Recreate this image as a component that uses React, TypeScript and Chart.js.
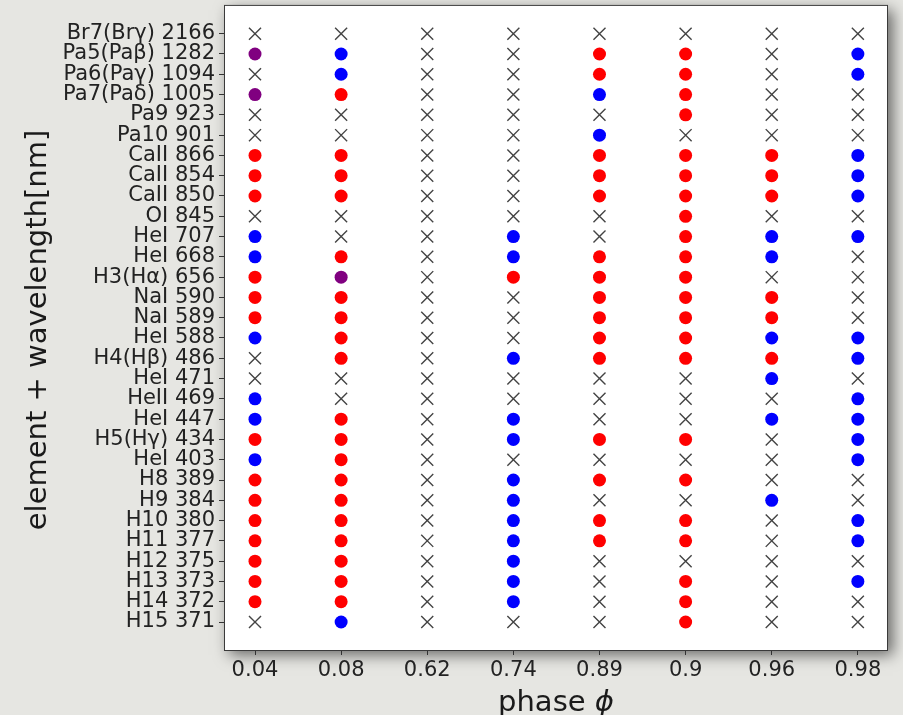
import React, { useEffect, useRef } from "react";
import { Chart, registerables } from "chart.js";
Chart.register(...registerables);

const phases = ["0.04", "0.08", "0.62", "0.74", "0.89", "0.9", "0.96", "0.98"];
const lines = [
  "Br7(Brγ) 2166", "Pa5(Paβ) 1282", "Pa6(Paγ) 1094", "Pa7(Paδ) 1005", "Pa9 923", "Pa10 901",
  "CaII 866", "CaII 854", "CaII 850", "OI 845", "HeI 707", "HeI 668", "H3(Hα) 656",
  "NaI 590", "NaI 589", "HeI 588", "H4(Hβ) 486", "HeI 471", "HeII 469", "HeI 447",
  "H5(Hγ) 434", "HeI 403", "H8 389", "H9 384", "H10 380", "H11 377", "H12 375",
  "H13 373", "H14 372", "H15 371",
];

// R = red, B = blue, P = purple, x = cross (one entry per line, top to bottom)
const phase004 = ["x","P","x","P","x","x","R","R","R","x","B","B","R","R","R","B","x","x","B","B","R","B","R","R","R","R","R","R","R","x"];
const phase008 = ["x","B","B","R","x","x","R","R","R","x","x","R","P","R","R","R","R","x","x","R","R","R","R","R","R","R","R","R","R","B"];
const phase062 = ["x","x","x","x","x","x","x","x","x","x","x","x","x","x","x","x","x","x","x","x","x","x","x","x","x","x","x","x","x","x"];
const phase074 = ["x","x","x","x","x","x","x","x","x","x","B","B","R","x","x","x","B","x","x","B","B","x","B","B","B","B","B","B","B","x"];
const phase089 = ["x","R","R","B","x","B","R","R","R","x","x","R","R","R","R","R","R","x","x","x","R","x","R","x","R","R","x","x","x","x"];
const phase090 = ["x","R","R","R","R","x","R","R","R","R","R","R","R","R","R","R","R","x","x","x","R","x","R","x","R","R","x","R","R","R"];
const phase096 = ["x","x","x","x","x","x","R","R","R","x","B","B","x","R","R","B","R","B","x","B","x","x","x","B","x","x","x","x","x","x"];
const phase098 = ["x","B","B","x","x","x","B","B","B","x","B","x","x","x","x","B","B","x","B","B","B","B","x","x","B","B","x","B","x","x"];

const columns = [phase004, phase008, phase062, phase074, phase089, phase090, phase096, phase098];

const FONT = "'DejaVu Sans', sans-serif";
const SHIFT = 5; // canvas is drawn 5px taller and shifted up by 5px

function pointsFor(code: string) {
  const pts: { x: number; y: number }[] = [];
  columns.forEach((col, xi) => {
    col.forEach((c, yi) => {
      if (c === code) pts.push({ x: xi, y: yi });
    });
  });
  return pts;
}

export default function App() {
  const ref = useRef<HTMLCanvasElement | null>(null);
  useEffect(() => {
    document.body.style.margin = "0";
    document.body.style.overflow = "hidden";
    const canvas = ref.current!;
    const bgPlugin = {
      id: "paper",
      beforeDraw(chart: any) {
        const { ctx, chartArea: a } = chart;
        ctx.save();
        ctx.fillStyle = "#e6e6e2";
        ctx.fillRect(0, 0, chart.width, chart.height);
        ctx.shadowColor = "rgba(0,0,0,0.55)";
        ctx.shadowBlur = 14;
        ctx.shadowOffsetX = 5;
        ctx.shadowOffsetY = 5;
        ctx.fillStyle = "#ffffff";
        ctx.fillRect(a.left, a.top, a.right - a.left, a.bottom - a.top);
        ctx.restore();
      },
      afterDraw(chart: any) {
        const { ctx, chartArea: a } = chart;
        ctx.save();
        ctx.strokeStyle = "#3a3a3a";
        ctx.lineWidth = 1;
        ctx.strokeRect(a.left + 0.5, a.top + 0.5, a.right - a.left - 1, a.bottom - a.top);
        ctx.fillStyle = "#1a1a1a";
        // y title
        ctx.save();
        ctx.translate(38, 330 + SHIFT);
        ctx.rotate(-Math.PI / 2);
        ctx.font = `29px ${FONT}`;
        ctx.textAlign = "center";
        ctx.textBaseline = "middle";
        ctx.fillText("element + wavelength[nm]", 0, 0);
        ctx.restore();
        // x title
        const cx = (a.left + a.right) / 2;
        ctx.font = `29px ${FONT}`;
        const t1 = "phase ";
        const w1 = ctx.measureText(t1).width;
        ctx.font = `italic 29px ${FONT}`;
        const w2 = ctx.measureText("ϕ").width;
        const start = cx - (w1 + w2) / 2;
        ctx.textBaseline = "alphabetic";
        ctx.textAlign = "left";
        ctx.font = `29px ${FONT}`;
        ctx.fillText(t1, start, 711 + SHIFT);
        ctx.font = `italic 29px ${FONT}`;
        ctx.fillText("ϕ", start + w1, 711 + SHIFT);
        ctx.restore();
      },
    };

    const chart = new Chart(canvas, {
      type: "scatter",
      data: {
        datasets: [
          { label: "red", data: pointsFor("R"), pointStyle: "circle", pointRadius: 6.5, backgroundColor: "#ff0000", borderWidth: 0 },
          { label: "blue", data: pointsFor("B"), pointStyle: "circle", pointRadius: 6.5, backgroundColor: "#0000ff", borderWidth: 0 },
          { label: "purple", data: pointsFor("P"), pointStyle: "circle", pointRadius: 6.5, backgroundColor: "#800080", borderWidth: 0 },
          { label: "none", data: pointsFor("x"), pointStyle: "crossRot", pointRadius: 8.5, borderColor: "#444444", backgroundColor: "#444444", borderWidth: 1.4 },
        ],
      },
      options: {
        animation: false,
        responsive: false,
        events: [],
        layout: { padding: { top: 0, right: 15, left: 0, bottom: 0 } },
        plugins: { legend: { display: false }, tooltip: { enabled: false } },
        scales: {
          x: {
            type: "linear",
            min: -0.36,
            max: 7.35,
            afterBuildTicks: (s: any) => { s.ticks = phases.map((_, i) => ({ value: i })); },
            afterFit: (s: any) => { s.height = 65; s.paddingLeft = 0; s.paddingRight = 0; },
            ticks: {
              autoSkip: false,
              maxRotation: 0,
              callback: (v: any) => phases[v as number] ?? "",
              font: { family: FONT, size: 21 },
              color: "#222222",
              padding: 3,
            },
            grid: { drawOnChartArea: false, drawTicks: true, tickLength: 5, color: "#333333" },
            border: { display: false },
          },
          y: {
            type: "linear",
            reverse: true,
            min: -1.42,
            max: 30.38,
            afterBuildTicks: (s: any) => { s.ticks = lines.map((_, i) => ({ value: i })); },
            afterFit: (s: any) => { s.width = 224; s.paddingTop = 0; s.paddingBottom = 0; },
            ticks: {
              autoSkip: false,
              callback: (v: any) => lines[v as number] ?? "",
              font: { family: FONT, size: 21 },
              color: "#222222",
              padding: 4,
            },
            grid: { drawOnChartArea: false, drawTicks: true, tickLength: 5, color: "#333333" },
            border: { display: false },
          },
        },
      },
      plugins: [bgPlugin],
    });
    return () => chart.destroy();
  }, []);
  return (
    <canvas
      ref={ref}
      width={903}
      height={715 + SHIFT}
      style={{ display: "block", width: 903, height: 715 + SHIFT, marginTop: -SHIFT }}
    />
  );
}
